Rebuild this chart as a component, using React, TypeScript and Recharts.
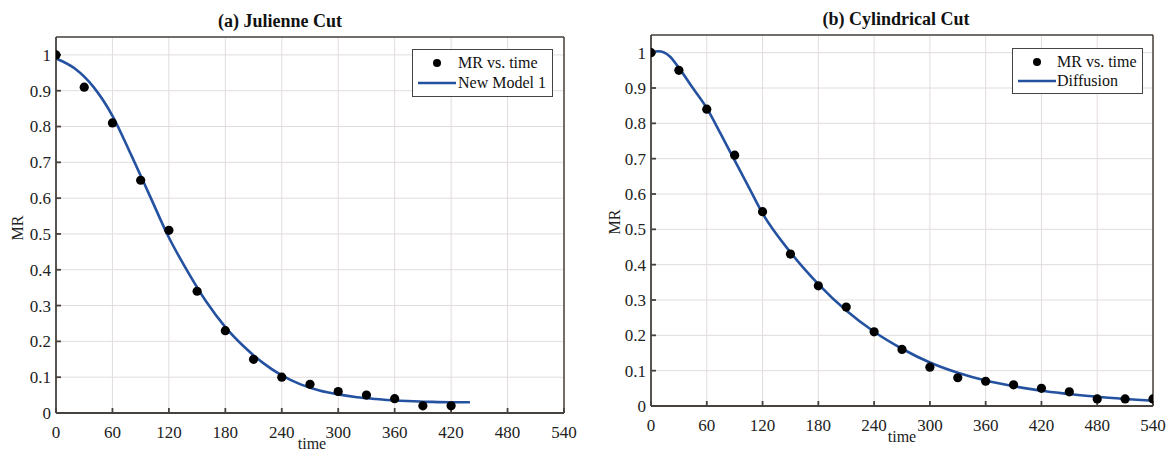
import React from "react"
import { ComposedChart, Line, Scatter, XAxis, YAxis, CartesianGrid } from "recharts"

// measured moisture ratio, sampled every 30 min
const julienneTimes = [0, 30, 60, 90, 120, 150, 180, 210, 240, 270, 300, 330, 360, 390, 420]
const julienneMR = [1.0, 0.91, 0.81, 0.65, 0.51, 0.34, 0.23, 0.15, 0.1, 0.08, 0.06, 0.05, 0.04, 0.02, 0.02]

// fitted "New Model 1" curve
const julienneFitTimes = [0, 20, 40, 60, 80, 100, 120, 140, 160, 180, 200, 220, 240, 260, 280, 300, 320, 340, 360, 380, 400, 420, 440]
const julienneFit = [0.99, 0.962, 0.91, 0.83, 0.72, 0.605, 0.49, 0.395, 0.31, 0.24, 0.185, 0.14, 0.105, 0.08, 0.063, 0.052, 0.044, 0.039, 0.035, 0.033, 0.031, 0.03, 0.03]

const cylTimes = [0, 30, 60, 90, 120, 150, 180, 210, 240, 270, 300, 330, 360, 390, 420, 450, 480, 510, 540]
const cylMR = [1.0, 0.95, 0.84, 0.71, 0.55, 0.43, 0.34, 0.28, 0.21, 0.16, 0.11, 0.08, 0.07, 0.06, 0.05, 0.04, 0.02, 0.02, 0.02]

// fitted diffusion curve
const cylFitTimes = [0, 8, 20, 30, 45, 60, 75, 90, 105, 120, 150, 180, 210, 240, 270, 300, 330, 360, 390, 420, 450, 480, 510, 540]
const cylFit = [1.0, 1.004, 0.99, 0.957, 0.9, 0.843, 0.77, 0.695, 0.62, 0.545, 0.435, 0.345, 0.27, 0.21, 0.162, 0.123, 0.094, 0.072, 0.056, 0.043, 0.034, 0.026, 0.02, 0.015]

const xTicks = [0, 60, 120, 180, 240, 300, 360, 420, 480, 540]
const yTicks = [0, 0.1, 0.2, 0.3, 0.4, 0.5, 0.6, 0.7, 0.8, 0.9, 1]

const zip = (ts: number[], vs: number[]) => ts.map((t, i) => ({ t, mr: vs[i] }))

const FONT = '"Liberation Serif", "Times New Roman", serif'
const LINE_COLOR = "#2452a0"
const AXIS_COLOR = "#48423e"

// tick labels drawn as plain svg text so the serif size sticks
const XTick = (p: any) => (
  <text x={p.x} y={p.y} dy="0.75em" textAnchor="middle" fill="#222" fontSize={17} fontFamily={FONT}>
    {p.payload.value}
  </text>
)
const YTick = (p: any) => (
  <text x={p.x} y={p.y} dy="0.35em" textAnchor="end" fill="#222" fontSize={17} fontFamily={FONT}>
    {p.payload.value}
  </text>
)

const Dot = (p: any) => <circle cx={p.cx} cy={p.cy} r={4.6} fill="#000" />

type PanelProps = {
  left: number
  width: number
  margin: { top: number; right: number; bottom: number; left: number }
  points: { t: number; mr: number }[]
  fit: { t: number; mr: number }[]
  fitName: string
  title: string
  titleX: number
  titleY: number
  mrX: number
  mrY: number
  timeX: number
  timeY: number
  legend: { left: number; top: number; width: number; height: number; row1: number; row2: number; textX: number }
}

function Panel(p: PanelProps) {
  const lg = p.legend
  return (
    <>
      <div style={{ position: "absolute", left: p.left, top: 0 }}>
        <ComposedChart width={p.width} height={459} margin={p.margin}>
          <CartesianGrid stroke="#e3dcdc" strokeWidth={1} />
          <XAxis
            xAxisId={0}
            dataKey="t"
            type="number"
            domain={[0, 540]}
            ticks={xTicks}
            allowDataOverflow
            height={30}
            stroke={AXIS_COLOR}
            strokeWidth={1.8}
            tickSize={-5}
            tickMargin={17}
            tick={XTick}
          />
          <XAxis
            xAxisId="top"
            orientation="top"
            type="number"
            domain={[0, 540]}
            ticks={xTicks}
            allowDataOverflow
            height={1}
            stroke={AXIS_COLOR}
            strokeWidth={1.5}
            tickSize={-5}
            tick={false}
          />
          <YAxis
            yAxisId={0}
            dataKey="mr"
            type="number"
            domain={[0, 1.05]}
            ticks={yTicks}
            allowDataOverflow
            width={40}
            stroke={AXIS_COLOR}
            strokeWidth={1.8}
            tickSize={-5}
            tickMargin={10}
            tick={YTick}
          />
          <YAxis
            yAxisId="right"
            orientation="right"
            type="number"
            domain={[0, 1.05]}
            ticks={yTicks}
            allowDataOverflow
            width={1}
            stroke={AXIS_COLOR}
            strokeWidth={1.5}
            tickSize={-5}
            tick={false}
          />
          <Line
            data={p.fit}
            dataKey="mr"
            type="monotone"
            stroke={LINE_COLOR}
            strokeWidth={2.6}
            dot={false}
            activeDot={false}
            isAnimationActive={false}
          />
          <Scatter data={p.points} dataKey="mr" shape={Dot} isAnimationActive={false} />
        </ComposedChart>
      </div>

      <div
        style={{
          position: "absolute",
          left: p.titleX,
          top: p.titleY - 11,
          transform: "translateX(-50%)",
          fontFamily: FONT,
          fontWeight: "bold",
          fontSize: 18,
          lineHeight: "22px",
          whiteSpace: "nowrap",
          color: "#111",
        }}
      >
        {p.title}
      </div>

      <div
        style={{
          position: "absolute",
          left: p.mrX,
          top: p.mrY,
          transform: "translate(-50%, -50%) rotate(-90deg)",
          fontFamily: FONT,
          fontSize: 16,
          lineHeight: "18px",
          color: "#222",
        }}
      >
        MR
      </div>

      <div
        style={{
          position: "absolute",
          left: p.timeX,
          top: p.timeY - 9,
          transform: "translateX(-50%)",
          fontFamily: FONT,
          fontSize: 16,
          lineHeight: "18px",
          color: "#222",
        }}
      >
        time
      </div>

      {/* legend box */}
      <div
        style={{
          position: "absolute",
          left: lg.left,
          top: lg.top,
          width: lg.width,
          height: lg.height,
          boxSizing: "border-box",
          border: "1.5px solid #444",
          background: "#fff",
          fontFamily: FONT,
          fontSize: 16,
          color: "#111",
        }}
      >
        <svg width={lg.width} height={lg.height} style={{ position: "absolute", left: -1.5, top: -1.5 }}>
          <circle cx={25} cy={lg.row1} r={4} fill="#000" />
          <line x1={6} x2={44} y1={lg.row2} y2={lg.row2} stroke={LINE_COLOR} strokeWidth={2.6} />
        </svg>
        <div style={{ position: "absolute", left: lg.textX, top: lg.row1 - 11, lineHeight: "20px", whiteSpace: "nowrap" }}>
          MR vs. time
        </div>
        <div style={{ position: "absolute", left: lg.textX, top: lg.row2 - 11, lineHeight: "20px", whiteSpace: "nowrap" }}>
          {p.fitName}
        </div>
      </div>
    </>
  )
}

export default function App() {
  return (
    <div style={{ position: "absolute", left: 0, top: 0, width: 1169, height: 459, background: "#fff", overflow: "hidden" }}>
      <Panel
        left={0}
        width={590}
        margin={{ top: 36, right: 25, bottom: 16, left: 16 }}
        points={zip(julienneTimes, julienneMR)}
        fit={zip(julienneFitTimes, julienneFit)}
        fitName="New Model 1"
        title="(a) Julienne Cut"
        titleX={280}
        titleY={21}
        mrX={18}
        mrY={228}
        timeX={312}
        timeY={444}
        legend={{ left: 412, top: 49, width: 141, height: 48, row1: 14, row2: 34, textX: 45 }}
      />
      <Panel
        left={590}
        width={579}
        margin={{ top: 34, right: 15, bottom: 23, left: 21 }}
        points={zip(cylTimes, cylMR)}
        fit={zip(cylFitTimes, cylFit)}
        fitName="Diffusion"
        title="(b) Cylindrical Cut"
        titleX={896}
        titleY={19}
        mrX={615}
        mrY={222}
        timeX={902}
        timeY={437}
        legend={{ left: 1012, top: 48, width: 131, height: 46, row1: 14, row2: 33, textX: 44 }}
      />
    </div>
  )
}
